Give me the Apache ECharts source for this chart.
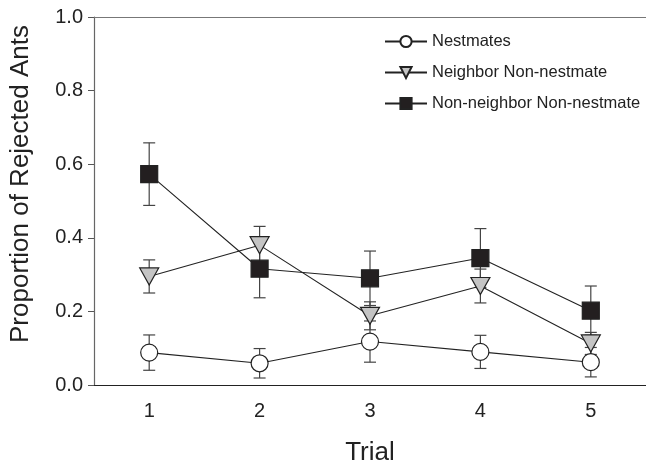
<!DOCTYPE html>
<html><head><meta charset="utf-8">
<script src="https://cdn.jsdelivr.net/npm/echarts@6/dist/echarts.min.js"></script>
<style>html,body{margin:0;padding:0;background:#fff}#c{width:646px;height:471px}</style>
</head><body><div id="c"></div>
<script>
var trials = ['1','2','3','4','5'];
var yTicks = [0, 0.2, 0.4, 0.6, 0.8, 1.0];
var nestmates = [0.088, 0.059, 0.118, 0.090, 0.062];
var nestmatesErr = [0.048, 0.040, 0.056, 0.045, 0.040];
var neighbor = [0.295, 0.380, 0.188, 0.269, 0.113];
var neighborErr = [0.045, 0.051, 0.038, 0.046, 0.030];
var nonNeighbor = [0.573, 0.316, 0.290, 0.345, 0.202];
var nonNeighborErr = [0.085, 0.079, 0.074, 0.080, 0.067];
var names = ['Nestmates', 'Neighbor Non-nestmate', 'Non-neighbor Non-nestmate'];

var FONT = 'Liberation Sans, Arial, sans-serif';
var tri = 'path://M0,0L20,0L10,17Z';

function errSeries(vals, errs) {
  var d = vals.map(function (v, i) { return [i, v - errs[i], v + errs[i]]; });
  return {
    type: 'custom', z: 1, silent: true, data: d,
    renderItem: function (params, api) {
      var lo = api.coord([api.value(0), api.value(1)]);
      var hi = api.coord([api.value(0), api.value(2)]);
      var hw = 6;
      var st = { stroke: '#444', lineWidth: 1.2 };
      return { type: 'group', children: [
        { type: 'line', shape: { x1: lo[0], y1: lo[1], x2: hi[0], y2: hi[1] }, style: st },
        { type: 'line', shape: { x1: hi[0] - hw, y1: hi[1], x2: hi[0] + hw, y2: hi[1] }, style: st },
        { type: 'line', shape: { x1: lo[0] - hw, y1: lo[1], x2: lo[0] + hw, y2: lo[1] }, style: st }
      ]};
    }
  };
}
function lineSeries(name, vals, symbol, size, fill) {
  return {
    name: name, type: 'line', z: 3, data: vals, symbol: symbol, symbolSize: size,
    showAllSymbol: true,
    lineStyle: { color: '#222', width: 1.1 },
    itemStyle: { color: fill, borderColor: '#222', borderWidth: 1.2, opacity: 1 },
    emphasis: { disabled: true }, animation: false
  };
}

var chart = echarts.init(document.getElementById('c'));
chart.setOption({
  animation: false,
  grid: { left: 93, top: 17, width: 555, height: 369 },
  legend: {
    orient: 'vertical', left: 379, top: 28, itemGap: 14, itemWidth: 42, itemHeight: 14,
    textStyle: { fontFamily: FONT, fontSize: 16.5, color: '#222' },
    data: names
  },
  xAxis: [{
    type: 'category', data: trials, boundaryGap: true,
    name: 'Trial', nameLocation: 'middle', nameGap: 55,
    nameTextStyle: { fontFamily: FONT, fontSize: 26, color: '#222' },
    axisLine: { lineStyle: { color: '#222', width: 1.2 } },
    axisTick: { alignWithLabel: true, length: 6, lineStyle: { color: '#444' } },
    axisLabel: { fontFamily: FONT, fontSize: 20, color: '#222', margin: 16 },
    splitLine: { show: false }
  }, {
    type: 'category', data: trials, position: 'top',
    axisLine: { show: true, lineStyle: { color: '#777', width: 1.2 } },
    axisTick: { show: false }, axisLabel: { show: false }, splitLine: { show: false }
  }],
  yAxis: {
    type: 'value', min: 0, max: 1, interval: 0.2,
    name: 'Proportion of Rejected Ants', nameLocation: 'middle', nameGap: 60,
    nameTextStyle: { fontFamily: FONT, fontSize: 26, color: '#222', padding: [0, 0, 0, 34] },
    axisLine: { show: true, lineStyle: { color: '#666', width: 1.2 } },
    axisTick: { show: true, length: 6, lineStyle: { color: '#555' } },
    axisLabel: { fontFamily: FONT, fontSize: 20, color: '#222', margin: 11,
      formatter: function (v) { return v.toFixed(1); } },
    splitLine: { show: false }
  },
  series: [
    errSeries(nestmates, nestmatesErr),
    errSeries(neighbor, neighborErr),
    errSeries(nonNeighbor, nonNeighborErr),
    lineSeries(names[0], nestmates, 'circle', 17, '#ffffff'),
    lineSeries(names[1], neighbor, tri, [19, 17], '#c4c4c4'),
    lineSeries(names[2], nonNeighbor, 'rect', 17, '#231f20')
  ]
});
</script></body></html>
